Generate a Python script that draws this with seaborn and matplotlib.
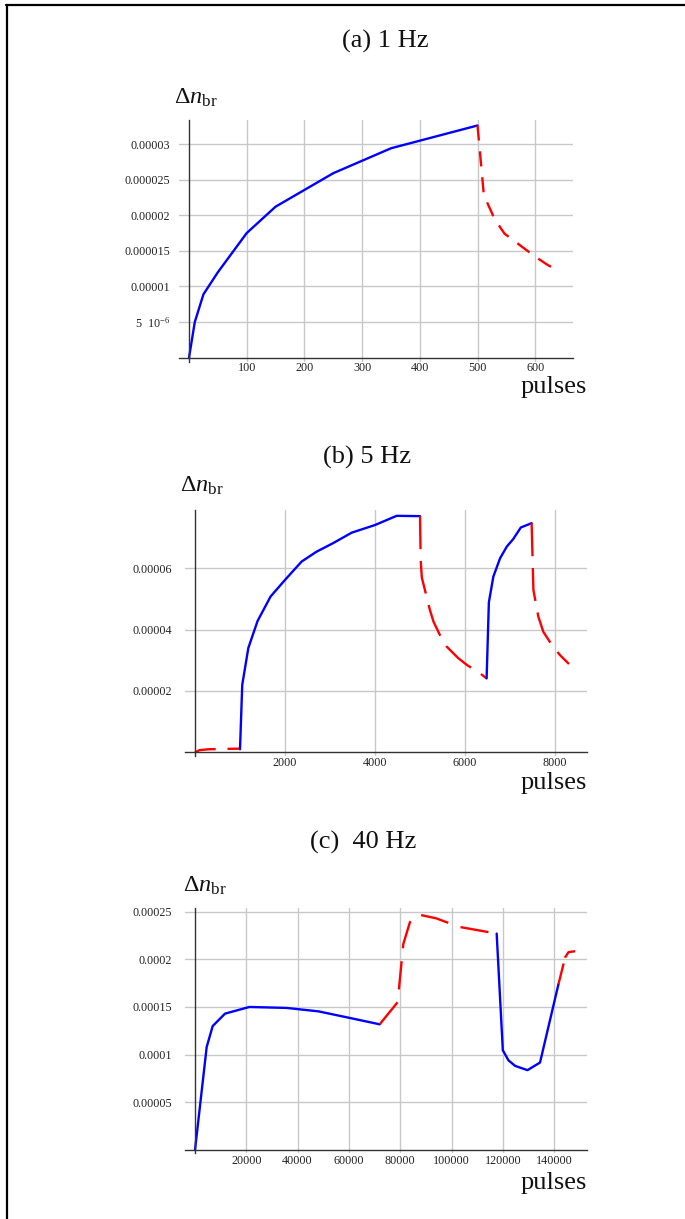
import numpy as np
import matplotlib
matplotlib.use("Agg")
import matplotlib.pyplot as plt
import seaborn as sns
from matplotlib.lines import Line2D
from matplotlib.ticker import FixedLocator

# --- data (pulses vs. Delta n_br) ---
# (a) 1 Hz
a_rise_x = [0, 10, 25, 50, 100, 150, 250, 350, 500]
a_rise_y = [0, 5.0e-6, 8.9e-6, 1.2e-5, 1.75e-5, 2.12e-5, 2.59e-5, 2.94e-5, 3.26e-5]
a_decay_x = [500, 511, 520, 530, 547, 562, 580, 600, 620, 640]
a_decay_y = [3.26e-5, 2.28e-5, 2.12e-5, 1.94e-5, 1.74e-5, 1.65e-5, 1.54e-5, 1.42e-5, 1.31e-5, 1.22e-5]

# (b) 5 Hz
b_dark_x = [0, 100, 300, 600, 1000]
b_dark_y = [0, 0.7e-6, 1.0e-6, 1.1e-6, 1.2e-6]
b_rise1_x = [1000, 1050, 1185, 1390, 1680, 2000, 2370, 2700, 3070, 3480, 4000, 4480, 5000]
b_rise1_y = [1.0e-6, 2.2e-5, 3.4e-5, 4.28e-5, 5.08e-5, 5.62e-5, 6.22e-5, 6.54e-5, 6.82e-5,
             7.16e-5, 7.41e-5, 7.71e-5, 7.70e-5]
b_decay1_x = [5000, 5015, 5040, 5220, 5300, 5440, 5590, 5850, 6040, 6330, 6480]
b_decay1_y = [7.70e-5, 6.27e-5, 5.70e-5, 4.64e-5, 4.26e-5, 3.83e-5, 3.45e-5, 3.07e-5,
              2.85e-5, 2.58e-5, 2.41e-5]
b_rise2_x = [6480, 6530, 6630, 6780, 6930, 7070, 7240, 7480]
b_rise2_y = [2.41e-5, 4.89e-5, 5.73e-5, 6.33e-5, 6.71e-5, 6.95e-5, 7.33e-5, 7.47e-5]
b_decay2_x = [7480, 7520, 7630, 7740, 7930, 8110, 8310]
b_decay2_y = [7.47e-5, 5.29e-5, 4.42e-5, 3.93e-5, 3.50e-5, 3.17e-5, 2.88e-5]

# (c) 40 Hz
c_rise1_x = [0, 4550, 6900, 11700, 21200, 35700, 48100, 59800, 72000]
c_rise1_y = [0, 1.08e-4, 1.30e-4, 1.43e-4, 1.50e-4, 1.49e-4, 1.454e-4, 1.388e-4, 1.318e-4]
c_plat_x = [72000, 79000, 81200, 83800, 87100, 94000, 103000, 117600]
c_plat_y = [1.318e-4, 1.55e-4, 2.16e-4, 2.39e-4, 2.47e-4, 2.43e-4, 2.34e-4, 2.27e-4]
c_dip_x = [117600, 120000, 122200, 124800, 129600, 134500, 141700]
c_dip_y = [2.27e-4, 1.046e-4, 0.94e-4, 0.882e-4, 0.837e-4, 0.917e-4, 1.74e-4]
c_recov_x = [141700, 144300, 145600, 148200]
c_recov_y = [1.74e-4, 2.02e-4, 2.075e-4, 2.085e-4]

titles = ["(a) 1 Hz", "(b) 5 Hz", "(c)  40 Hz"]

a_xticks = [100, 200, 300, 400, 500, 600]
a_yticks = [5e-6, 1e-5, 1.5e-5, 2e-5, 2.5e-5, 3e-5]
a_ylabels = ["5  10$^{-6}$", "0.00001", "0.000015", "0.00002", "0.000025", "0.00003"]
b_xticks = [2000, 4000, 6000, 8000]
b_yticks = [2e-5, 4e-5, 6e-5]
b_ylabels = ["0.00002", "0.00004", "0.00006"]
c_xticks = [20000, 40000, 60000, 80000, 100000, 120000, 140000]
c_yticks = [5e-5, 1e-4, 1.5e-4, 2e-4, 2.5e-4]
c_ylabels = ["0.00005", "0.0001", "0.00015", "0.0002", "0.00025"]

sns.set_style("white")
plt.rcParams["font.family"] = ["Liberation Serif", "DejaVu Serif"]
plt.rcParams["mathtext.fontset"] = "custom"
plt.rcParams["mathtext.rm"] = "Liberation Serif"
plt.rcParams["mathtext.it"] = "Liberation Serif:italic"

W, H = 685, 1219
fig = plt.figure(figsize=(W / 100, H / 100), dpi=100)


def px_axes(left, right, top, bottom):
    return fig.add_axes([left / W, 1 - bottom / H, (right - left) / W, (bottom - top) / H])


def style_axes(ax, xlim, ylim, xticks, yticks, ylabels, xminor, yminor, ypad):
    ax.set_xlim(*xlim)
    ax.set_ylim(*ylim)
    for s in ["top", "right"]:
        ax.spines[s].set_visible(False)
    ax.spines["left"].set_position(("data", 0))
    ax.spines["bottom"].set_position(("data", 0))
    for s in ["left", "bottom"]:
        ax.spines[s].set_color("#333333")
        ax.spines[s].set_linewidth(1.0)
    ax.set_xticks(xticks)
    ax.set_xticklabels([str(t) for t in xticks])
    ax.set_yticks(yticks)
    ax.set_yticklabels(ylabels)
    ax.xaxis.set_minor_locator(FixedLocator(xminor))
    ax.yaxis.set_minor_locator(FixedLocator(yminor))
    ax.tick_params(which="major", direction="in", length=3.5, width=0.8, color="#333333",
                   labelsize=8.7, labelcolor="#222222")
    ax.tick_params(which="minor", direction="in", length=2, width=0.6, color="#333333")
    ax.tick_params(axis="y", which="major", pad=ypad)
    ax.tick_params(axis="x", which="major", pad=3.3)
    ax.grid(True, which="major", color="#c8c8c8", linewidth=1.0)
    ax.set_axisbelow(True)
    ax.set_xlabel("")
    ax.set_ylabel("")


def seg(ax, xs, ys, color, dash=None):
    kw = dict(color=color, linewidth=1.7, estimator=None, sort=False)
    if dash is not None:
        kw["linestyle"] = (0, dash)
    sns.lineplot(x=xs, y=ys, ax=ax, **kw)


blue, red = "#0000ff", "#ff0000"

# (a)
ax1 = px_axes(179.2, 573.3, 120, 361.7)
seg(ax1, a_rise_x, a_rise_y, blue)
seg(ax1, a_decay_x, a_decay_y, red, (6.4, 4.6))
style_axes(ax1, (-17, 666), (-0.56e-6, 3.337e-5), a_xticks, a_yticks, a_ylabels,
           np.arange(20, 661, 20), np.arange(1e-6, 3.3e-5, 1e-6), 13.5)

# (b)
ax2 = px_axes(185, 586.7, 510, 756)
seg(ax2, b_dark_x, b_dark_y, red, (9, 5))
seg(ax2, b_rise1_x, b_rise1_y, blue)
seg(ax2, b_decay1_x, b_decay1_y, red, (14, 5))
seg(ax2, b_rise2_x, b_rise2_y, blue)
seg(ax2, b_decay2_x, b_decay2_y, red, (14, 5))
style_axes(ax2, (-222, 8704), (-1.2e-6, 7.9e-5), b_xticks, b_yticks, b_ylabels,
           np.arange(500, 8701, 500), np.arange(5e-6, 7.9e-5, 5e-6), 16.5)

# (c)
ax3 = px_axes(185, 586.7, 908.3, 1153.3)
seg(ax3, c_rise1_x, c_rise1_y, blue)
seg(ax3, c_plat_x, c_plat_y, red, (12, 5.5))
seg(ax3, c_dip_x, c_dip_y, blue)
seg(ax3, c_recov_x, c_recov_y, red, (9, 2.5))
style_axes(ax3, (-3900, 152700), (-3.5e-6, 2.535e-4), c_xticks, c_yticks, c_ylabels,
           np.arange(5000, 152001, 5000), np.arange(1e-5, 2.53e-4, 1e-5), 16.5)

# titles and axis labels, placed in pixel coordinates
title_pos = [(385, 48), (367, 463.3), (363, 848.3)]
ylab_pos = [(174, 104), (180, 492), (183, 892)]
xlab_pos = [(587, 393), (587, 788.5), (587, 1188.5)]
for t, (tx, ty) in zip(titles, title_pos):
    fig.text(tx / W, 1 - ty / H, t, ha="center", va="baseline", fontsize=19, color="#111111")
for (lx, ly) in ylab_pos:
    fig.text(lx / W, 1 - ly / H, r"$\Delta\mathit{n}_{\mathrm{br}}$", ha="left", va="baseline",
             fontsize=17.5, color="#111111")
for (px, py) in xlab_pos:
    fig.text(px / W, 1 - py / H, "pulses", ha="right", va="baseline", fontsize=19, color="#111111")

# outer frame (top and left edges)
fig.add_artist(Line2D([6 / W, 1], [1 - 4.5 / H, 1 - 4.5 / H], color="black", linewidth=1.6,
                      transform=fig.transFigure))
fig.add_artist(Line2D([6.5 / W, 6.5 / W], [0, 1 - 4.5 / H], color="black", linewidth=1.6,
                      transform=fig.transFigure))

fig.savefig("out.png", dpi=100)
